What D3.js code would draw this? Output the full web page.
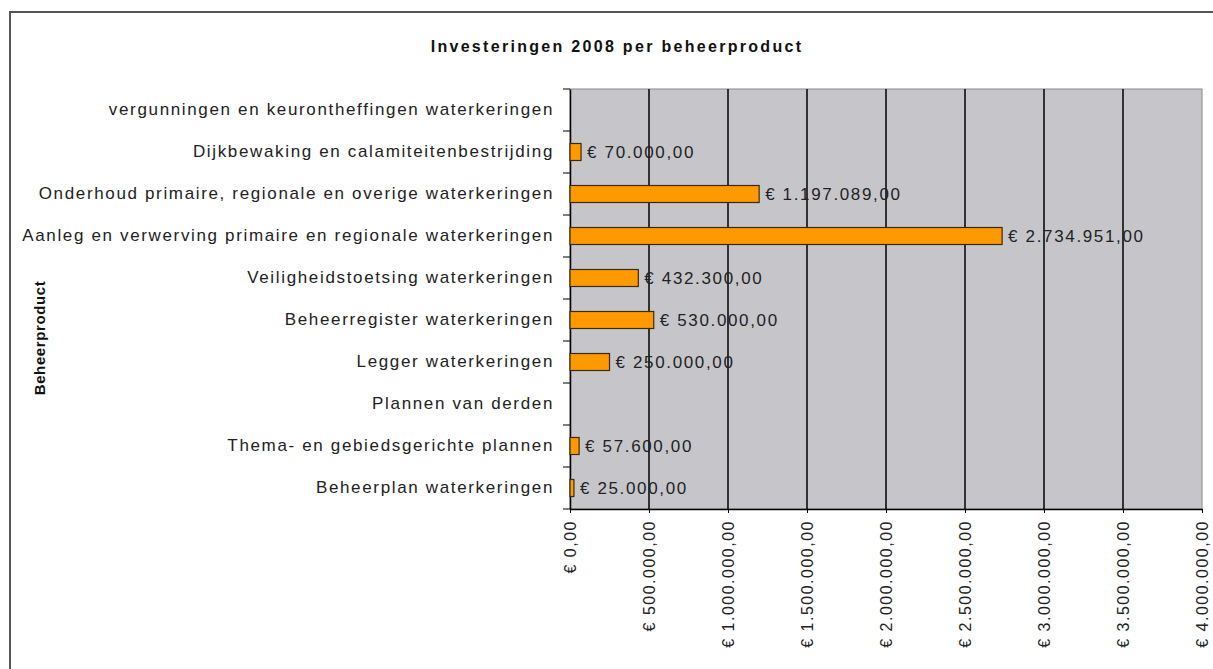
<!DOCTYPE html>
<html>
<head>
<meta charset="utf-8">
<script src="https://cdn.jsdelivr.net/npm/d3@7"></script>
<style>
  body { margin: 0; background: #fff; }
  text { font-family: "Liberation Sans", Arial, sans-serif; }
</style>
</head>
<body>
<div id="container"></div>
<script>
let w = 1213;
let h = 669;

// data, top to bottom as in the chart
let categories = [
  "vergunningen en keurontheffingen waterkeringen",
  "Dijkbewaking en calamiteitenbestrijding",
  "Onderhoud primaire, regionale en overige waterkeringen",
  "Aanleg en verwerving primaire en regionale waterkeringen",
  "Veiligheidstoetsing waterkeringen",
  "Beheerregister waterkeringen",
  "Legger waterkeringen",
  "Plannen van derden",
  "Thema- en gebiedsgerichte plannen",
  "Beheerplan waterkeringen"
];
let values = [null, 70000, 1197089, 2734951, 432300, 530000, 250000, null, 57600, 25000];
let xTicks = [0, 500000, 1000000, 1500000, 2000000, 2500000, 3000000, 3500000, 4000000];

let plotLeft = 570;
let plotRight = 1202;
let plotTop = 89;
let plotBottom = 509;

let euro = function(v){
  let parts = v.toFixed(2).split(".");
  let intPart = parts[0].replace(/\B(?=(\d{3})+(?!\d))/g, ".");
  return "€ " + intPart + "," + parts[1];
};

let viz = d3.select("#container")
  .append("svg")
    .attr("width", w)
    .attr("height", h)
;

// outer chart border
viz.append("rect")
  .attr("x", 10).attr("y", 12)
  .attr("width", w + 20).attr("height", h + 20)
  .attr("fill", "white")
  .attr("stroke", "#555")
  .attr("stroke-width", 2);

let xScale = d3.scaleLinear().domain([0, 4000000]).range([plotLeft, plotRight]);
let yScale = d3.scaleBand().domain(categories).range([plotTop, plotBottom]);

// plot background
viz.append("rect")
  .attr("x", plotLeft).attr("y", plotTop)
  .attr("width", plotRight - plotLeft).attr("height", plotBottom - plotTop)
  .attr("fill", "#c6c6ca")
  .attr("stroke", "#8a8a8a")
  .attr("stroke-width", 1);

// gridlines
viz.append("g").selectAll("line").data(xTicks.slice(1, -1)).enter()
  .append("line")
    .attr("x1", d => xScale(d)).attr("x2", d => xScale(d))
    .attr("y1", plotTop).attr("y2", plotBottom)
    .attr("stroke", "black")
    .attr("stroke-width", 1.5);

// bottom axis
let xAxisGroup = viz.append("g").attr("class", "xaxis")
  .attr("transform", "translate(0, " + plotBottom + ")");
xAxisGroup.call(d3.axisBottom(xScale).tickValues(xTicks).tickSize(4).tickSizeOuter(0).tickFormat(euro));
xAxisGroup.select(".domain").attr("stroke", "black").attr("stroke-width", 1.5);
xAxisGroup.selectAll(".tick line").attr("stroke", "black");
xAxisGroup.selectAll(".tick text")
  .attr("font-size", 16)
  .attr("fill", "#222")
  .attr("text-anchor", "end")
  .attr("transform", "rotate(-90)")
  .attr("x", -11)
  .attr("y", 0)
  .attr("dy", "0.35em")
  .style("letter-spacing", "1.5px");

// left axis
let yAxisGroup = viz.append("g").attr("class", "yaxis")
  .attr("transform", "translate(" + plotLeft + ", 0)");
yAxisGroup.call(d3.axisLeft(yScale).tickSize(0).tickPadding(16));
yAxisGroup.select(".domain").attr("stroke", "black").attr("stroke-width", 1.5);
yAxisGroup.selectAll(".tick text")
  .attr("font-size", 17)
  .attr("fill", "#222")
  .style("letter-spacing", "1.65px");

// category separators on the left axis
let bounds = categories.map(c => yScale(c)).concat([plotBottom]);
yAxisGroup.selectAll(".sep").data(bounds).enter()
  .append("line")
    .attr("class", "sep")
    .attr("x1", -7).attr("x2", 0)
    .attr("y1", d => d).attr("y2", d => d)
    .attr("stroke", "black");

// bars
let barH = 17;
let rows = categories.map((c, i) => ({ name: c, value: values[i] })).filter(d => d.value != null);

viz.append("g").selectAll("rect").data(rows).enter()
  .append("rect")
    .attr("x", xScale(0))
    .attr("y", d => yScale(d.name) + yScale.bandwidth() / 2 - barH / 2)
    .attr("width", d => xScale(d.value) - xScale(0))
    .attr("height", barH)
    .attr("fill", "#ff9900")
    .attr("stroke", "#3a2a10")
    .attr("stroke-width", 1.2);

// value labels
viz.append("g").selectAll("text").data(rows).enter()
  .append("text")
    .text(d => euro(d.value))
    .attr("x", d => xScale(d.value) + 6)
    .attr("y", d => yScale(d.name) + yScale.bandwidth() / 2)
    .attr("dy", "0.35em")
    .attr("font-size", 17)
    .attr("fill", "#222")
    .style("letter-spacing", "1.65px");

// title
viz.append("text")
  .text("Investeringen 2008 per beheerproduct")
  .attr("x", 617).attr("y", 52)
  .attr("text-anchor", "middle")
  .attr("font-size", 16)
  .attr("font-weight", "bold")
  .attr("fill", "#111")
  .style("letter-spacing", "2.3px");

// y axis title
viz.append("text")
  .text("Beheerproduct")
  .attr("transform", "translate(45, 338) rotate(-90)")
  .attr("text-anchor", "middle")
  .attr("font-size", 15)
  .attr("font-weight", "bold")
  .attr("fill", "#111")
  .style("letter-spacing", "0.6px");
</script>
</body>
</html>
